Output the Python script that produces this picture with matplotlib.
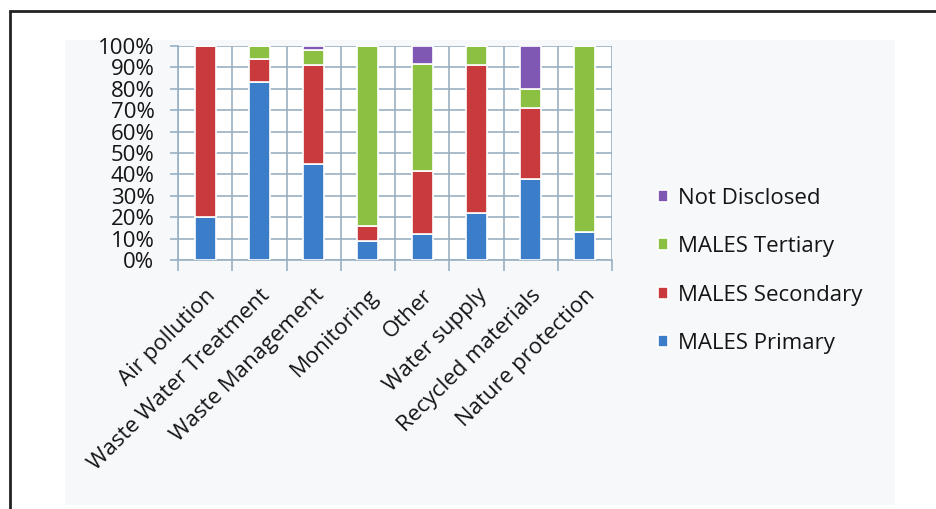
import matplotlib
matplotlib.use("Agg")
import matplotlib.pyplot as plt
import numpy as np
from matplotlib.patches import Rectangle

categories = ["Air pollution", "Waste Water Treatment", "Waste Management", "Monitoring",
              "Other", "Water supply", "Recycled materials", "Nature protection"]
primary = [20, 83, 45, 9, 12, 22, 38, 13]
secondary = [80, 11, 46, 7, 29.5, 69, 33, 0]
tertiary = [0, 6, 7, 84, 50, 9, 9, 87]
not_disclosed = [0, 0, 2, 0, 8.5, 0, 20, 0]
yticks = [0, 10, 20, 30, 40, 50, 60, 70, 80, 90, 100]

plt.rcParams['font.family'] = ['Open Sans', 'DejaVu Sans']
fs = 16
txt_col = '#151515'

W, H = 937, 509
fig = plt.figure(figsize=(W / 100, H / 100), dpi=100)
fig.patch.set_facecolor('white')

# inner light background and outer frame
fig.patches.append(Rectangle((65 / W, 1 - 505 / H), 830 / W, 465 / H, transform=fig.transFigure,
                             facecolor='#F7F8FA', edgecolor='none', zorder=-5))
fig.patches.append(Rectangle((10 / W, -0.05), 1.2, 1 - 11 / H + 0.05, transform=fig.transFigure,
                             facecolor='none', edgecolor='#222222', lw=2, zorder=-4))

ax = fig.add_axes([178 / W, 1 - 260 / H, (612 - 178) / W, (260 - 46) / H])
ax.set_zorder(5)
ax.set_facecolor('white')

x = np.arange(len(categories))
colors = {'p': '#3B7DC8', 's': '#C83A3C', 't': '#8CC043', 'n': '#7E58B3'}
w = 0.39
p = np.array(primary)
s = np.array(secondary)
t = np.array(tertiary)
n = np.array(not_disclosed)
b1 = ax.bar(x, p, w, color=colors['p'], edgecolor='white', lw=1.2, label='MALES Primary', zorder=3)
b2 = ax.bar(x, s, w, bottom=p, color=colors['s'], edgecolor='white', lw=1.2, label='MALES Secondary', zorder=3)
b3 = ax.bar(x, t, w, bottom=p + s, color=colors['t'], edgecolor='white', lw=1.2, label='MALES Tertiary', zorder=3)
b4 = ax.bar(x, n, w, bottom=p + s + t, color=colors['n'], edgecolor='white', lw=1.2, label='Not Disclosed', zorder=3)

ax.set_xlim(-0.5, len(categories) - 0.5)
ax.set_ylim(0, 100)
ax.set_yticks(yticks)
ax.set_yticklabels([f"{v}%" for v in yticks], fontsize=fs, color=txt_col)

ax.set_xticks(x)
ax.set_xticklabels(categories, rotation=45, ha='right', rotation_mode='anchor', fontsize=fs, color=txt_col)
ax.tick_params(axis='x', length=0, pad=18)
ax.set_xticks(np.arange(len(categories) + 1) - 0.5, minor=True)
ax.tick_params(axis='x', which='minor', length=8, color='#9AB0C2', width=1.2)
ax.tick_params(axis='y', length=6, color='#9AB0C2', width=1.2, pad=11)

ax.grid(True, axis='y', color='#9AB0C2', lw=1.2, zorder=0)
ax.grid(True, axis='x', which='minor', color='#9AB0C2', lw=1.2, zorder=0)
for sp in ['top', 'right']:
    ax.spines[sp].set_visible(False)
ax.spines['left'].set_color('#9AB0C2')
ax.spines['bottom'].set_color('#9AB0C2')
ax.spines['left'].set_linewidth(1.2)
ax.spines['bottom'].set_linewidth(1.2)

handles = [b4, b3, b2, b1]
labels = [h.get_label() for h in handles]
leg = fig.legend(handles, labels, loc='upper left', bbox_to_anchor=(638 / W, 1 - 168 / H),
                 frameon=False, fontsize=fs, handlelength=0.45, handleheight=0.45,
                 handletextpad=0.45, labelspacing=1.23, labelcolor=txt_col)

fig.savefig('out.png', dpi=100, facecolor='white')
